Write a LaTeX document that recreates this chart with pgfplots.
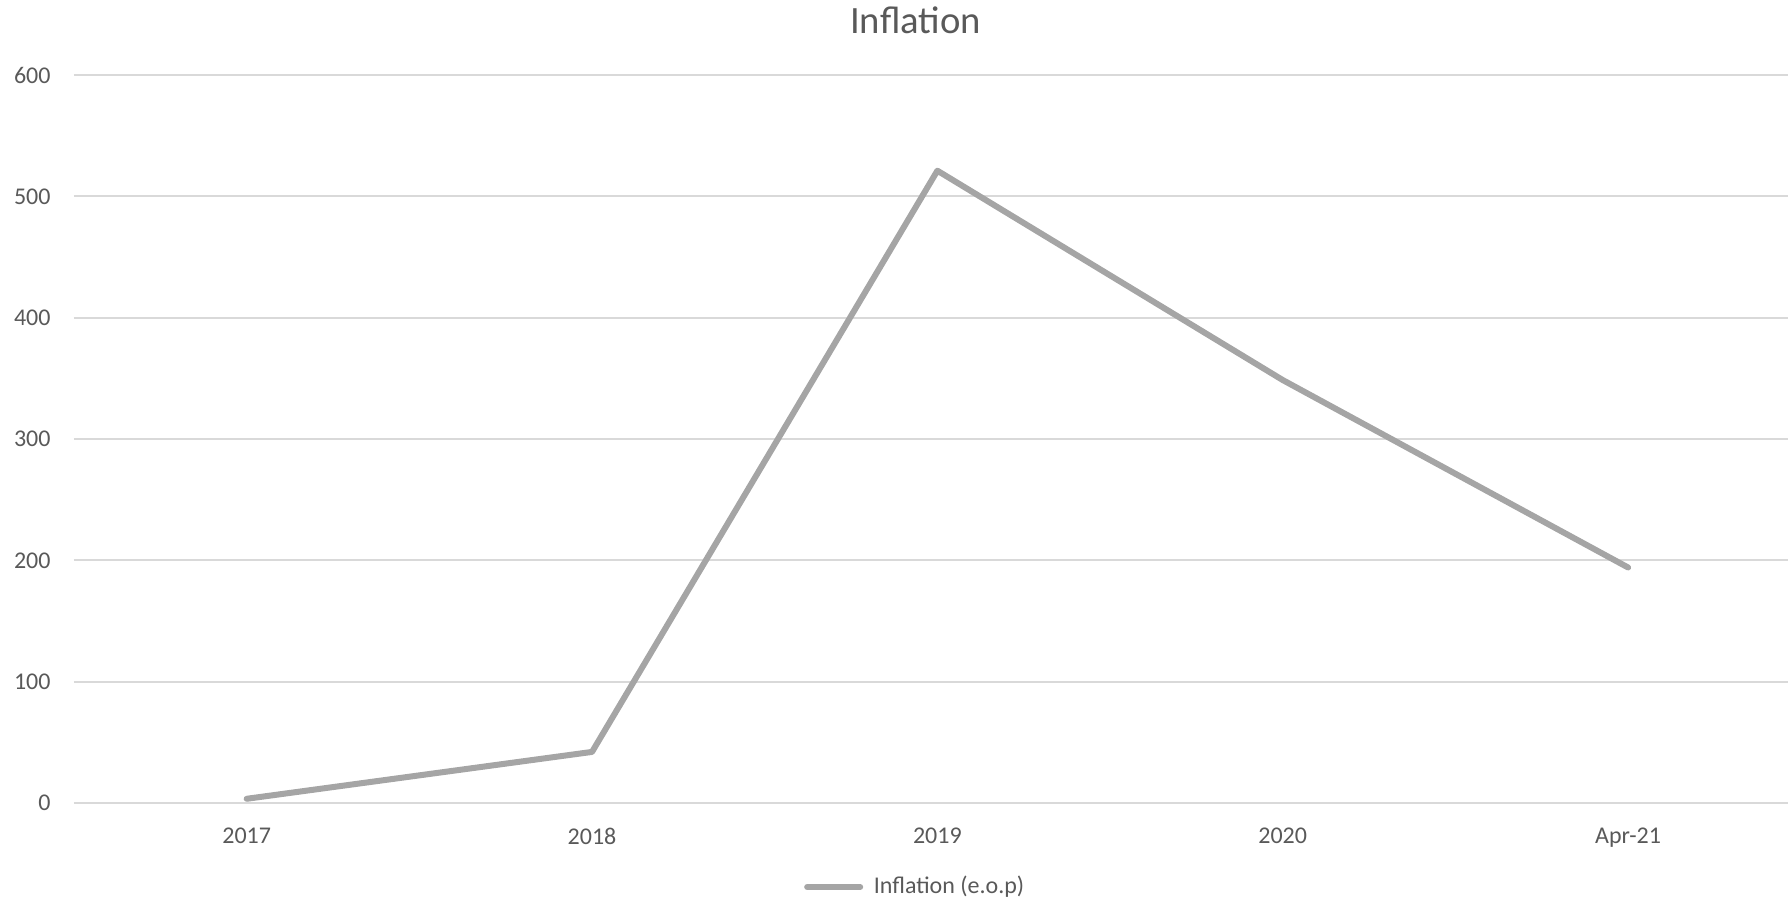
\documentclass[border=0pt]{standalone}
\usepackage{pgfplots}
\pgfplotsset{compat=1.18}
\usepackage{fontspec}
\setmainfont{Carlito}
\definecolor{txtgray}{HTML}{595959}
\definecolor{gridgray}{HTML}{D9D9D9}
\definecolor{linegray}{HTML}{A5A5A5}
\begin{document}
\begin{tikzpicture}
\useasboundingbox (-27.75pt,-37.5pt) rectangle (642.75pt,301.125pt);
\begin{axis}[
  at={(0,0)}, anchor=south west,
  scale only axis,
  width=642.75pt, height=273pt,
  xmin=-0.5, xmax=4.463,
  ymin=0, ymax=600,
  ytick={0,100,...,600},
  xtick={0,1,2,3,4},
  xticklabels={2017,2018,2019,2020,Apr-21},
  axis line style={draw=none},
  major tick length=0pt,
  ymajorgrids,
  grid style={gridgray, line width=0.75pt},
  clip=false,
  font=\fontsize{9}{11}\selectfont,
  /pgf/number format/assume math mode=true,
  tick label style={text=txtgray, font=\fontsize{9}{11}\selectfont},
  xticklabel style={anchor=center, yshift=-12.4pt, text depth=0pt},
  yticklabel style={anchor=east, inner sep=0pt, xshift=-8.6pt},
  every axis title shift=0pt,
  title={Inflation},
  title style={font=\fontsize{14.5}{17}\selectfont, text=txtgray, at={(0.491,1)}, anchor=center, yshift=20.4pt},
  legend style={at={(0.491,0)}, anchor=center, yshift=-31.5pt, draw=none, fill=none,
    font=\fontsize{9}{11}\selectfont, text=txtgray, inner sep=0pt,
    nodes={inner sep=1pt}},
  legend image code/.code={\draw[linegray, line width=2.25pt, line cap=round] (0pt,0pt) -- (19.9pt,0pt);},
]
\addplot[linegray, line width=2.25pt, line join=round, line cap=round] coordinates {
  (0,3.46) (1,42.1) (2,521.15) (3,348.6) (4,194.1)
};
\addlegendentry{\hspace{3pt}Inflation (e.o.p)}
\end{axis}
\end{tikzpicture}
\end{document}
